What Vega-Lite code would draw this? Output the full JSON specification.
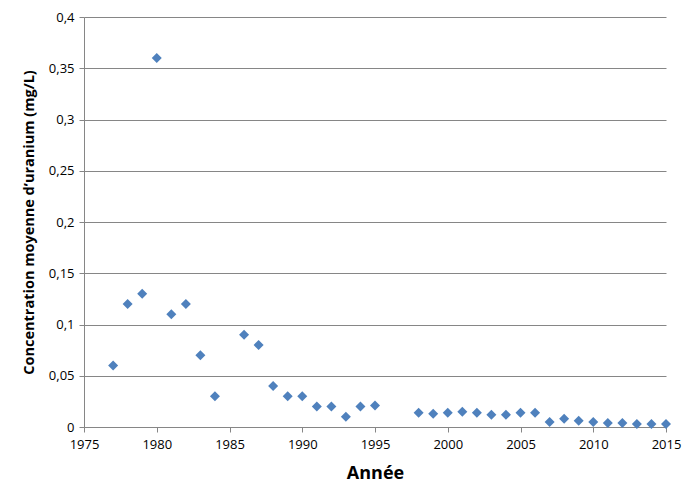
{
  "$schema": "https://vega.github.io/schema/vega-lite/v6.json",
  "width": 582,
  "height": 410,
  "autosize": {"type": "none"},
  "padding": {"left": 84, "top": 17, "right": 32, "bottom": 77},
  "background": "white",
  "config": {
    "view": {"stroke": null},
    "locale": {"number": {"decimal": ",", "thousands": "\u00a0", "grouping": [3], "currency": ["", ""]}},
    "font": "Open Sans"
  },
  "data": {
    "values": [
      {"annee": 1977, "conc": 0.06},
      {"annee": 1978, "conc": 0.12},
      {"annee": 1979, "conc": 0.13},
      {"annee": 1980, "conc": 0.36},
      {"annee": 1981, "conc": 0.11},
      {"annee": 1982, "conc": 0.12},
      {"annee": 1983, "conc": 0.07},
      {"annee": 1984, "conc": 0.03},
      {"annee": 1986, "conc": 0.09},
      {"annee": 1987, "conc": 0.08},
      {"annee": 1988, "conc": 0.04},
      {"annee": 1989, "conc": 0.03},
      {"annee": 1990, "conc": 0.03},
      {"annee": 1991, "conc": 0.02},
      {"annee": 1992, "conc": 0.02},
      {"annee": 1993, "conc": 0.01},
      {"annee": 1994, "conc": 0.02},
      {"annee": 1995, "conc": 0.021},
      {"annee": 1998, "conc": 0.014},
      {"annee": 1999, "conc": 0.013},
      {"annee": 2000, "conc": 0.014},
      {"annee": 2001, "conc": 0.015},
      {"annee": 2002, "conc": 0.014},
      {"annee": 2003, "conc": 0.012},
      {"annee": 2004, "conc": 0.012},
      {"annee": 2005, "conc": 0.014},
      {"annee": 2006, "conc": 0.014},
      {"annee": 2007, "conc": 0.005},
      {"annee": 2008, "conc": 0.008},
      {"annee": 2009, "conc": 0.006},
      {"annee": 2010, "conc": 0.005},
      {"annee": 2011, "conc": 0.004},
      {"annee": 2012, "conc": 0.004},
      {"annee": 2013, "conc": 0.003},
      {"annee": 2014, "conc": 0.003},
      {"annee": 2015, "conc": 0.003}
    ]
  },
  "mark": {"type": "point", "shape": "diamond", "filled": true, "size": 100, "color": "#4F81BD", "opacity": 1},
  "encoding": {
    "x": {
      "field": "annee", "type": "quantitative",
      "scale": {"domain": [1975, 2015], "nice": false, "zero": false},
      "axis": {
        "values": [1975, 1980, 1985, 1990, 1995, 2000, 2005, 2010, 2015],
        "format": "d", "grid": false, "title": "Année", "labelFlush": false, "labelOverlap": false,
        "titleFontSize": 18, "titleFontWeight": "bold", "titleColor": "#000", "titlePadding": 13,
        "labelFontSize": 13, "labelColor": "#000", "labelPadding": 6,
        "domainColor": "#868686", "tickColor": "#868686", "tickSize": 5
      }
    },
    "y": {
      "field": "conc", "type": "quantitative",
      "scale": {"domain": [0, 0.4], "nice": false},
      "axis": {
        "values": [0, 0.05, 0.1, 0.15, 0.2, 0.25, 0.3, 0.35, 0.4],
        "format": ".2~f", "grid": true, "gridColor": "#868686", "labelFlush": false, "labelOverlap": false,
        "title": "Concentration moyenne d’uranium (mg/L)",
        "titleFontSize": 14.5, "titleFontWeight": "bold", "titleColor": "#000", "titlePadding": 12,
        "labelFontSize": 13, "labelColor": "#000", "labelPadding": 5,
        "domainColor": "#868686", "tickColor": "#868686", "tickSize": 5
      }
    }
  }
}
